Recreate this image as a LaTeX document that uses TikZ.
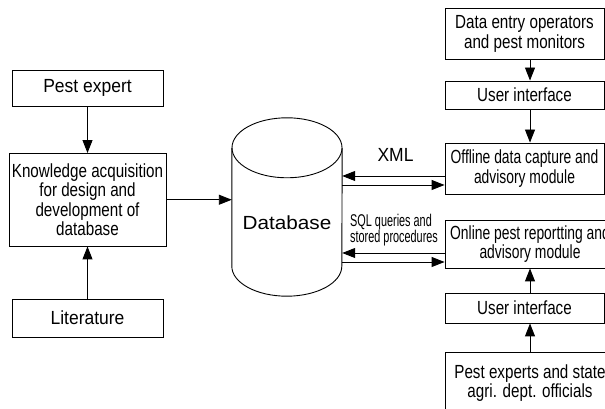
\documentclass[tikz,border=0pt]{standalone}
\usepackage{fontspec}
\setmainfont{Liberation Sans}
% condensed cuts of one sans family
\newfontfamily\mainf[FakeStretch=0.80]{Liberation Sans}
\newfontfamily\widef[FakeStretch=0.92]{Liberation Sans}
\newfontfamily\tightf[FakeStretch=0.73]{Liberation Sans}
\newfontfamily\sqlf[FakeStretch=0.64]{Liberation Sans}
\newfontfamily\dbf[FakeStretch=1.09]{Liberation Sans}
\usetikzlibrary{arrows.meta,calc}

\begin{document}
\begin{tikzpicture}[x=1pt,y=1pt,
  line/.style={line width=0.9pt},
  arr/.style={line, -{Triangle[length=13pt,width=10pt]}},
  box/.style={draw, line width=0.9pt, align=center, inner sep=2pt,
    font=\mainf\fontsize{19pt}{19.5pt}\selectfont},
  widebox/.style={box, font=\widef\fontsize{19pt}{19.5pt}\selectfont},
  tightbox/.style={box, font=\tightf\fontsize{19pt}{19.5pt}\selectfont},
]
\useasboundingbox (0,0) rectangle (605,409);
\clip (0,0) rectangle (605,409);

% left column: sources of knowledge
\node[widebox, minimum width=151pt, minimum height=36.5pt] (pest) at (87.5,320.75) {Pest expert};
\node[box, minimum width=157pt, minimum height=92.5pt] (know) at (87.5,209.25)
  {Knowledge acquisition\\for design and\\development of\\database};
\node[widebox, minimum width=151pt, minimum height=38pt] (lit) at (87.5,91) {Literature};

% database cylinder
\node[minimum width=110pt, minimum height=118pt, inner sep=0pt] (db) at (287,202) {};
\draw[line] (db.north west) -- (db.south west)
  arc[start angle=180, end angle=360, x radius=55, y radius=30] -- (db.north east);
\draw[line] (db.north) ellipse[x radius=55, y radius=30];
\node[inner sep=0pt, font=\dbf\fontsize{19pt}{20pt}\selectfont] (dbtext) at (287,186) {Database};

% right column: modules and their users
\node[box, minimum width=159pt, minimum height=51pt] (entry) at (524.5,375)
  {Data entry operators\\and pest monitors};
\node[box, minimum width=159pt, minimum height=28pt] (uiA) at (524.5,314) {User interface};
\node[tightbox, minimum width=159pt, minimum height=51pt] (offline) at (524.5,240.5)
  {Offline data capture and\\advisory module};
\node[tightbox, minimum width=170pt, minimum height=48pt] (online) at (530,165)
  {Online pest reportting and\\advisory module};
\node[box, minimum width=159pt, minimum height=30pt] (uiB) at (524.5,101) {User interface};
\node[box, minimum width=170pt, minimum height=62pt] (experts) at (530,26)
  {Pest experts and state\\agri. dept. officials};

% connector labels
\node[anchor=base, inner sep=0pt, font=\widef\fontsize{19pt}{20pt}\selectfont] (xml) at (395.5,247.3) {XML};
\node[anchor=north west, inner sep=0pt, align=left,
  font=\sqlf\fontsize{17pt}{15.5pt}\selectfont] (sql) at (350,195.5)
  {SQL queries and\\stored procedures};

% connectors
\draw[arr] (pest) -- (know);
\draw[arr] (lit) -- (know);
\draw[arr] (know.east) -- (know.east -| db.west);

\draw[arr] ([xshift=5.5pt]entry.south) -- ([xshift=5.5pt]uiA.north);
\draw[arr] ([xshift=5.5pt]uiA.south) -- ([xshift=5.5pt]offline.north);
\draw[arr] ([xshift=5.5pt]uiB.north) -- (online.south);
\draw[arr] (experts.north) -- (uiB.south -| experts.north);

\draw[arr] ([yshift=-7.5pt]offline.west) -- ([yshift=-7.5pt]offline.west -| db.east);
\draw[arr] ([yshift=-16.5pt]offline.west -| db.east) -- ([yshift=-16.5pt]offline.west);
\draw[arr] ([yshift=-9pt]online.west) -- ([yshift=-9pt]online.west -| db.east);
\draw[arr] ([yshift=-18pt]online.west -| db.east) -- ([yshift=-18pt]online.west);
\end{tikzpicture}
\end{document}
